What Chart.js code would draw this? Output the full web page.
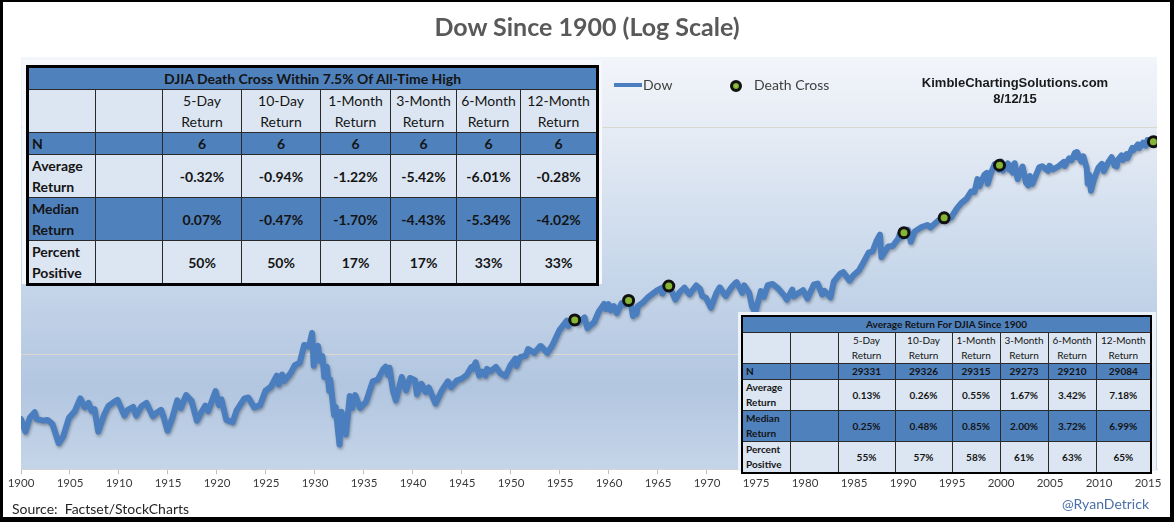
<!DOCTYPE html>
<html>
<head>
<meta charset="utf-8">
<script src="https://cdn.jsdelivr.net/npm/chart.js@4.4.0/dist/chart.umd.min.js"></script>
<style>
  body { margin: 0; width: 1174px; height: 522px; overflow: hidden; background: #000; font-family: Lato, "Open Sans", sans-serif; }
  #frame { position: absolute; left: 3px; top: 2px; width: 1167px; height: 515px; background: #fff; }
  #dowChart { position: absolute; left: 0; top: 0; }
  .txt { position: absolute; white-space: nowrap; }
  #title { left: 0; width: 1174px; top: 11px; text-align: center; font-weight: bold; font-size: 25px; color: #595959; }
  .legLine { position: absolute; left: 614px; top: 83px; width: 28px; height: 4px; background: #4a7ebf; }
  .legDot { position: absolute; left: 730px; top: 80px; width: 6px; height: 6px; border: 3px solid #111; border-radius: 50%; background: radial-gradient(circle, #a8d24a 0%, #5f8a22 100%); }
  #kimble { left: 915px; width: 200px; top: 75px; text-align: center; font-family: "Liberation Sans", Arial, sans-serif; font-weight: bold; font-size: 13px; line-height: 16px; color: #1a1a1a; }
  .tbox { position: absolute; }
  table { border-collapse: collapse; table-layout: fixed; color: #141414; }
  td { border: 1px solid #2a2a2a; padding: 0; text-align: center; overflow: hidden; }
  td.lab { text-align: left; font-weight: bold; padding-left: 3px; }
  td.val { font-weight: bold; }
  tr.blue td { background: #4f81bd; }
  tr.light td { background: #dce6f2; }
  #t1 { border: 3px solid #000; font-size: 14px; line-height: 21px; }
  #t1 td.ttl { font-size: 14px; font-weight: bold; }
  #t2 { border: 2px solid #000; font-size: 10px; line-height: 15px; }
  #t2 td.ttl { font-weight: bold; }
</style>
</head>
<body>
<div id="frame"></div>
<canvas id="dowChart" width="1174" height="522"></canvas>
<div class="txt" id="title">Dow Since 1900 (Log Scale)</div>
<div class="legLine"></div>
<div class="txt" style="left:643px;top:76px;font-size:14px;color:#404040;">Dow</div>
<div class="legDot"></div>
<div class="txt" style="left:754px;top:76px;font-size:14px;color:#404040;">Death Cross</div>
<div class="txt" id="kimble">KimbleChartingSolutions.com<br>8/12/15</div>
<div class="tbox" style="left:22px;top:60px;width:580px;height:224px;background:#f6f8fc;"></div>
<div class="tbox" style="left:738px;top:312px;width:418px;height:159px;background:#edf2f8;"></div>
<div class="tbox" id="box1" style="left:26px;top:65px;"></div>
<div class="tbox" id="box2" style="left:741px;top:315px;"></div>
<div class="txt" style="left:12px;top:500px;font-size:14px;color:#262626;">Source:&nbsp; Factset/StockCharts</div>
<div class="txt" style="right:25px;top:495px;font-size:14px;color:#4a6fa8;">@RyanDetrick</div>

<script>
// Dow Jones Industrial Average, [year, value]
const dowPoints = [
  [1900.0, 68], [1900.45, 53], [1900.9, 70], [1901.4, 78], [1901.6, 68], [1902.3, 66], [1902.7, 67], [1903.2, 62], [1903.85, 42], [1904.3, 48], [1904.9, 70], [1905.5, 80],
  [1906.05, 103], [1906.5, 86], [1906.9, 94], [1907.2, 80], [1907.5, 83], [1907.88, 53], [1908.5, 75], [1908.9, 88], [1909.5, 96], [1909.85, 100],
  [1910.55, 73], [1910.9, 82], [1911.45, 87], [1911.75, 73], [1912.3, 88], [1912.8, 94], [1913.45, 72], [1913.9, 78], [1914.3, 82], [1914.55, 71], [1914.95, 54],
  [1915.4, 68], [1915.95, 99], [1916.3, 85], [1916.85, 110], [1917.4, 98], [1917.95, 66], [1918.4, 78], [1918.8, 89], [1919.1, 80], [1919.85, 119],
  [1920.2, 90], [1920.45, 101], [1920.95, 67], [1921.6, 64], [1922.0, 81], [1922.8, 103], [1923.2, 105], [1923.8, 86], [1924.4, 90], [1924.95, 120],
  [1925.5, 130], [1926.1, 162], [1926.3, 136], [1926.65, 166], [1926.85, 146], [1927.5, 170], [1927.95, 200], [1928.45, 210], [1928.9, 300], [1929.1, 296],
  [1929.4, 290], [1929.7, 381], [1929.87, 198], [1930.0, 245], [1930.3, 294], [1930.5, 218], [1930.75, 240], [1930.95, 158], [1931.2, 194], [1931.45, 120],
  [1931.55, 150], [1931.95, 74], [1932.1, 87], [1932.5, 41], [1932.7, 79], [1933.15, 50], [1933.55, 108], [1933.8, 85], [1934.1, 110], [1934.6, 85],
  [1935.2, 96], [1935.9, 145], [1936.4, 150], [1936.95, 184], [1937.2, 194], [1937.45, 165], [1937.6, 190], [1937.95, 121], [1938.25, 99], [1938.85, 158],
  [1939.3, 121], [1939.7, 155], [1940.2, 148], [1940.4, 112], [1940.85, 138], [1941.3, 117], [1941.6, 128], [1942.3, 93], [1942.9, 119], [1943.55, 145],
  [1943.9, 129], [1944.5, 148], [1944.95, 152], [1945.5, 165], [1945.95, 192], [1946.1, 186], [1946.4, 212], [1946.75, 163], [1947.05, 176], [1947.4, 163],
  [1947.55, 186], [1947.9, 177], [1948.45, 193], [1948.9, 171], [1949.45, 161], [1949.95, 200], [1950.45, 228], [1950.55, 197], [1950.95, 235], [1951.5, 242],
  [1951.75, 276], [1952.4, 256], [1952.95, 292], [1953.05, 293], [1953.7, 255], [1954.2, 295], [1954.95, 404], [1955.7, 487], [1955.85, 438], [1956.3, 521],
  [1956.5, 500], [1956.85, 466], [1957.5, 520], [1957.8, 420], [1958.5, 475], [1958.95, 583], [1959.5, 680], [1959.7, 615], [1959.95, 679], [1960.2, 599],
  [1960.5, 650], [1960.8, 566], [1961.3, 692], [1961.6, 670], [1961.95, 734], [1962.0, 726], [1962.2, 705], [1962.45, 535], [1962.6, 600], [1962.8, 558],
  [1962.95, 652], [1963.5, 707], [1963.9, 767], [1964.5, 840], [1964.9, 891], [1965.4, 939], [1965.45, 840], [1965.95, 969], [1966.1, 990], [1966.4, 872],
  [1966.77, 744], [1967.2, 858], [1967.7, 943], [1968.2, 825], [1968.9, 985], [1969.3, 920], [1969.5, 800], [1969.9, 769], [1970.4, 631], [1970.95, 842],
  [1971.3, 950], [1971.9, 797], [1972.5, 950], [1972.9, 1036], [1973.02, 1052], [1973.6, 851], [1973.8, 987], [1974.3, 850], [1974.6, 650], [1974.92, 577],
  [1975.5, 881], [1975.8, 784], [1976.2, 990], [1976.7, 1014], [1977.3, 920], [1977.9, 800], [1978.15, 742], [1978.7, 907], [1978.85, 792], [1979.4, 850],
  [1979.8, 897], [1980.25, 759], [1980.9, 1000], [1981.3, 1024], [1981.75, 824], [1982.0, 882], [1982.6, 777], [1982.95, 1070], [1983.6, 1248], [1983.9, 1287],
  [1984.55, 1086], [1984.95, 1210], [1985.5, 1330], [1985.95, 1553], [1986.5, 1900], [1986.9, 1950], [1987.3, 2400], [1987.65, 2722], [1987.8, 1739], [1988.5, 2150],
  [1988.95, 2168], [1989.5, 2500], [1989.7, 2791], [1989.8, 2570], [1990.05, 2800], [1990.5, 2999], [1990.8, 2365], [1991.2, 2900], [1991.9, 3168], [1992.5, 3300],
  [1992.8, 3140], [1993.5, 3550], [1993.95, 3794], [1994.08, 3978], [1994.25, 3593], [1994.9, 3830], [1995.5, 4600], [1995.95, 5117], [1996.5, 5600], [1996.95, 6448],
  [1997.3, 6400], [1997.6, 8259], [1997.8, 7161], [1998.3, 9000], [1998.55, 9338], [1998.65, 7539], [1998.95, 9200], [1999.35, 11107], [1999.6, 11200], [1999.78, 10000],
  [1999.85, 10900], [2000.0, 11723], [2000.2, 9796], [2000.7, 11310], [2000.85, 10000], [2001.0, 10900], [2001.2, 9389], [2001.4, 11337], [2001.7, 8236], [2002.2, 10635],
  [2002.55, 7700], [2002.78, 7286], [2002.95, 8800], [2003.2, 7524], [2003.9, 10453], [2004.2, 10700], [2004.8, 9750], [2004.95, 10783], [2005.3, 10012], [2005.9, 10718],
  [2006.4, 11642], [2006.5, 10739], [2006.95, 12500], [2007.2, 12050], [2007.55, 14000], [2007.65, 12850], [2007.77, 14164], [2008.2, 11740], [2008.4, 13058], [2008.75, 10300],
  [2008.85, 7552], [2009.0, 9034], [2009.18, 6547], [2009.5, 8300], [2009.95, 10428], [2010.3, 11205], [2010.5, 9686], [2010.95, 11570], [2011.3, 12810], [2011.6, 10800],
  [2011.8, 10655], [2011.95, 12200], [2012.3, 13279], [2012.45, 12101], [2012.8, 13610], [2012.9, 12542], [2013.4, 15409], [2013.5, 14659], [2013.85, 16000], [2013.97, 16576],
  [2014.1, 15373], [2014.5, 17138], [2014.6, 16368], [2014.78, 16117], [2014.95, 18053], [2015.05, 17164], [2015.15, 18133], [2015.4, 18312], [2015.55, 17500], [2015.61, 17400]
];

// death crosses within 7.5% of all-time high
const crossYears = [1956.5, 1962.0, 1966.1, 1990.1, 1994.2, 1999.85, 2015.55];
const crossValues = [495, 730, 975, 2830, 3810, 10900, 17450];

const tickYears = [1900, 1905, 1910, 1915, 1920, 1925, 1930, 1935, 1940, 1945, 1950, 1955,
  1960, 1965, 1970, 1975, 1980, 1985, 1990, 1995, 2000, 2005, 2010, 2015];
const gridValues = [250, 23000];

// tables
const returnCols = ["5-Day", "10-Day", "1-Month", "3-Month", "6-Month", "12-Month"];
const crossN = ["6", "6", "6", "6", "6", "6"];
const crossAvg = ["-0.32%", "-0.94%", "-1.22%", "-5.42%", "-6.01%", "-0.28%"];
const crossMedian = ["0.07%", "-0.47%", "-1.70%", "-4.43%", "-5.34%", "-4.02%"];
const crossPositive = ["50%", "50%", "17%", "17%", "33%", "33%"];
const allN = ["29331", "29326", "29315", "29273", "29210", "29084"];
const allAvg = ["0.13%", "0.26%", "0.55%", "1.67%", "3.42%", "7.18%"];
const allMedian = ["0.25%", "0.48%", "0.85%", "2.00%", "3.72%", "6.99%"];
const allPositive = ["55%", "57%", "58%", "61%", "63%", "65%"];

function buildTable(id, title, colW, rowH, n, avg, med, pos) {
  let h = '<table id="' + id + '" style="width:' + colW.reduce((a, b) => a + b, 0) + 'px">';
  h += '<colgroup>' + colW.map(w => '<col style="width:' + w + 'px">').join('') + '</colgroup>';
  h += '<tr class="blue" style="height:' + rowH[0] + 'px"><td class="ttl" colspan="8">' + title + '</td></tr>';
  h += '<tr class="light" style="height:' + rowH[1] + 'px"><td></td><td></td>' +
    returnCols.map(c => '<td>' + c + '<br>Return</td>').join('') + '</tr>';
  const rows = [["N", n, "blue"], ["Average<br>Return", avg, "light"], ["Median<br>Return", med, "blue"], ["Percent<br>Positive", pos, "light"]];
  rows.forEach((r, i) => {
    h += '<tr class="' + r[2] + '" style="height:' + rowH[i + 2] + 'px"><td class="lab">' + r[0] + '</td><td></td>' +
      r[1].map(v => '<td class="val">' + v + '</td>').join('') + '</tr>';
  });
  return h + '</table>';
}

document.getElementById('box1').innerHTML = buildTable('t1', 'DJIA Death Cross Within 7.5% Of All-Time High',
  [68, 67, 79, 79, 70, 66, 64, 77], [22, 42, 22, 41, 42, 43], crossN, crossAvg, crossMedian, crossPositive);
document.getElementById('box2').innerHTML = buildTable('t2', 'Average Return For DJIA Since 1900',
  [48, 48, 57, 57, 48, 48, 48, 55], [15, 31, 15, 30, 30, 30], allN, allAvg, allMedian, allPositive);

const plotBg = {
  id: 'plotBg',
  beforeDraw(chart) {
    const { ctx, chartArea: a } = chart;
    const g = ctx.createLinearGradient(0, a.top, 0, a.bottom);
    g.addColorStop(0, '#f2f5fa');
    g.addColorStop(0.17, '#e6ecf5');
    g.addColorStop(0.5, '#c9d8eb');
    g.addColorStop(0.8, '#b2c6e0');
    g.addColorStop(1, '#c5d5e9');
    ctx.save();
    ctx.fillStyle = g;
    ctx.fillRect(a.left, a.top, a.right - a.left, a.bottom - a.top);
    ctx.restore();
  }
};

const lineShadow = {
  id: 'lineShadow',
  beforeDatasetDraw(chart, args) {
    if (args.index !== 0) return;
    const ctx = chart.ctx;
    ctx.save();
    ctx.shadowColor = 'rgba(0,0,0,0.3)';
    ctx.shadowBlur = 3;
    ctx.shadowOffsetX = 1;
    ctx.shadowOffsetY = 2;
  },
  afterDatasetDraw(chart, args) {
    if (args.index !== 0) return;
    chart.ctx.restore();
  }
};

new Chart("dowChart", {
  type: "line",
  data: {
    datasets: [{
      label: "Dow",
      data: dowPoints.map(p => ({ x: p[0], y: p[1] })),
      borderColor: "#4a7ebf",
      borderWidth: 6,
      borderJoinStyle: "round",
      borderCapStyle: "round",
      pointRadius: 0,
      tension: 0,
      order: 2
    },
    {
      label: "Death Cross",
      data: crossYears.map((x, i) => ({ x: x, y: crossValues[i] })),
      showLine: false,
      pointRadius: 5,
      pointBorderWidth: 3,
      pointBackgroundColor: "#86b535",
      pointBorderColor: "#111",
      order: 1
    }]
  },
  options: {
    responsive: false,
    animation: false,
    layout: { padding: { left: 21, right: 17, top: 57, bottom: 30 } },
    plugins: { legend: { display: false }, tooltip: { enabled: false } },
    scales: {
      x: {
        type: "linear",
        min: 1900,
        max: 2015.92,
        afterBuildTicks: s => { s.ticks = tickYears.map(v => ({ value: v })); },
        grid: { drawOnChartArea: false, drawTicks: true, tickLength: 5, color: "#bfbfbf" },
        border: { color: "#d4d4d4" },
        ticks: { font: { family: "Lato", size: 11.5 }, color: "#3a3a3a", padding: 2, maxRotation: 0, autoSkip: false, callback: v => String(v) }
      },
      y: {
        type: "logarithmic",
        min: 25,
        max: 95000,
        afterBuildTicks: s => { s.ticks = gridValues.map(v => ({ value: v })); },
        grid: { color: "#dcd8d0", drawTicks: false },
        border: { display: false },
        ticks: { display: false }
      }
    }
  },
  plugins: [plotBg, lineShadow]
});
</script>
</body>
</html>
